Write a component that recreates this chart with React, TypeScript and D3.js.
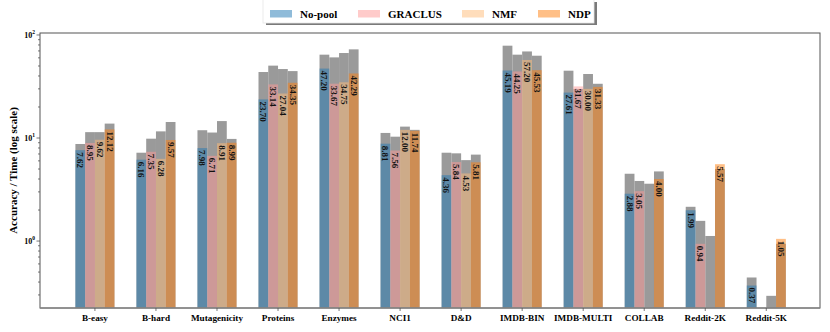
import React, { useEffect, useRef } from 'react';
import * as d3 from 'd3';

const datasets = ['B-easy', 'B-hard', 'Mutagenicity', 'Proteins', 'Enzymes', 'NCI1', 'D&D', 'IMDB-BIN', 'IMDB-MULTI', 'COLLAB', 'Reddit-2K', 'Reddit-5K'];
const methods = ['No-pool', 'GRACLUS', 'NMF', 'NDP'];

// labelled (coloured) values
const noPool = [7.62, 6.16, 7.98, 23.70, 47.20, 8.81, 4.36, 45.19, 27.61, 2.88, 1.99, 0.37];
const graclus = [8.95, 7.35, 6.71, 33.14, 33.67, 7.56, 5.84, 44.25, 31.67, 3.05, 0.94, null];
const nmf = [9.62, 6.28, 8.91, 27.04, 34.75, 12.00, 4.53, 57.20, 30.00, null, null, null];
const ndp = [12.12, 9.57, 8.99, 34.35, 42.29, 11.74, 5.81, 45.53, 31.33, 4.00, 5.57, 1.05];

// gray bars behind
const noPoolGray = [8.75, 7.2, 11.9, 43.7, 64.4, 11.2, 7.2, 78.7, 45, 4.5, 2.15, 0.443];
const graclusGray = [11.4, 9.85, 11.3, 50.4, 60.6, 10.3, 7.1, 64.4, 29.9, 3.83, 1.57, null];
const nmfGray = [11.4, 11.6, 14.6, 46.7, 66.8, 12.9, 6.1, 69.2, 41.8, 3.6, 1.12, 0.294];
const ndpGray = [13.8, 14.3, 9.8, 44.6, 72.5, 12.0, 6.9, 62.9, 33.6, 4.74, 5.0, 0.94];

const yTicks = [1, 10, 100];
const colors = ['#1f77b4', '#ff9896', '#ffbb78', '#ff7f0e'];

const App = () => {
    const ref = useRef<SVGSVGElement | null>(null);

    useEffect(() => {
        const svg = d3.select(ref.current);
        svg.selectAll('*').remove();
        const font = '"Liberation Serif", "Times New Roman", serif';

        const left = 40, right = 820, top = 33, bottom = 308;
        const x = d3.scaleLinear().domain([-0.9, 11.88]).range([left, right]);
        const y = d3.scaleLog().domain([0.224, 104.5]).range([bottom, top]);
        const bw = 0.16;

        const values = [noPool, graclus, nmf, ndp];
        const grays = [noPoolGray, graclusGray, nmfGray, ndpGray];

        // gray bars first
        grays.forEach((g, m) => {
            svg.append('g').selectAll('rect')
                .data(g.map((v, i) => ({ v, i })).filter(d => d.v != null))
                .enter().append('rect')
                .attr('x', d => x(d.i + (m - 2) * bw))
                .attr('width', x(bw) - x(0))
                .attr('y', d => y(d.v as number))
                .attr('height', d => bottom - y(d.v as number))
                .attr('fill', '#9a9a9a');
        });

        // coloured bars, half transparent
        values.forEach((vals, m) => {
            const g = svg.append('g');
            const data = vals.map((v, i) => ({ v, i })).filter(d => d.v != null);
            g.selectAll('rect')
                .data(data)
                .enter().append('rect')
                .attr('x', d => x(d.i + (m - 2) * bw))
                .attr('width', x(bw) - x(0))
                .attr('y', d => y(d.v as number))
                .attr('height', d => bottom - y(d.v as number))
                .attr('fill', colors[m])
                .attr('fill-opacity', 0.5);
            g.selectAll('text')
                .data(data)
                .enter().append('text')
                .attr('transform', d => `translate(${x(d.i + (m - 1.5) * bw)},${y(d.v as number) + 2}) rotate(90)`)
                .attr('dominant-baseline', 'central')
                .style('font-family', font)
                .style('font-weight', '700')
                .style('font-size', '9px')
                .style('fill', '#111')
                .text(d => (d.v as number).toFixed(2));
        });

        // frame
        svg.append('rect')
            .attr('x', left).attr('y', top)
            .attr('width', right - left).attr('height', bottom - top)
            .attr('fill', 'none').attr('stroke', '#555').attr('stroke-width', 1);
        svg.append('line')
            .attr('x1', left).attr('x2', right).attr('y1', bottom).attr('y2', bottom)
            .attr('stroke', '#8a8a8a').attr('stroke-width', 1.6);

        // y ticks
        const minor: number[] = [];
        [0.1, 1, 10].forEach(d => { for (let k = 2; k <= 9; k++) { const v = d * k; if (v >= 0.224 && v <= 104.5) minor.push(v); } });
        svg.append('g').selectAll('line').data(minor).enter().append('line')
            .attr('x1', left - 2).attr('x2', left).attr('y1', d => y(d)).attr('y2', d => y(d))
            .attr('stroke', '#555').attr('stroke-width', 0.8);
        svg.append('g').selectAll('line').data(yTicks).enter().append('line')
            .attr('x1', left - 3.5).attr('x2', left).attr('y1', d => y(d)).attr('y2', d => y(d))
            .attr('stroke', '#555').attr('stroke-width', 0.8);
        const yl = svg.append('g').selectAll('text').data(yTicks).enter().append('text')
            .attr('x', left - 5).attr('y', d => y(d) + 3)
            .attr('text-anchor', 'end')
            .style('font-family', font).style('font-weight', '700').style('font-size', '8px');
        yl.append('tspan').text('10');
        yl.append('tspan').attr('dy', -4).style('font-size', '5.5px').text(d => String(Math.round(Math.log10(d))));

        // x ticks
        svg.append('g').selectAll('line').data(datasets).enter().append('line')
            .attr('x1', (d, i) => x(i)).attr('x2', (d, i) => x(i))
            .attr('y1', bottom).attr('y2', bottom + 3)
            .attr('stroke', '#555').attr('stroke-width', 0.8);
        svg.append('g').selectAll('text').data(datasets).enter().append('text')
            .attr('x', (d, i) => x(i)).attr('y', 321)
            .attr('text-anchor', 'middle')
            .style('font-family', font).style('font-weight', '700').style('font-size', '9.2px')
            .text(d => d);

        svg.append('text')
            .attr('transform', `translate(17,${(top + bottom) / 2}) rotate(-90)`)
            .attr('text-anchor', 'middle')
            .style('font-family', font).style('font-weight', '700').style('font-size', '11px')
            .text('Accuracy / Time (log scale)');

        // legend with shadow
        svg.append('rect').attr('x', 266).attr('y', 2).attr('width', 331).attr('height', 23)
            .attr('fill', '#7a7a7a');
        svg.append('rect').attr('x', 263).attr('y', -1).attr('width', 331).attr('height', 24)
            .attr('fill', '#fff').attr('stroke', '#e6e6e6').attr('stroke-width', 0.8);
        const legX = [270, 358, 462, 538];
        methods.forEach((name, m) => {
            svg.append('rect').attr('x', legX[m]).attr('y', 10).attr('width', 22).attr('height', 7.5)
                .attr('fill', colors[m]).attr('fill-opacity', 0.5);
            svg.append('text').attr('x', legX[m] + 30).attr('y', 17.5)
                .style('font-family', font).style('font-weight', '700').style('font-size', '11px')
                .text(name);
        });
    }, []);

    return (
        <svg ref={ref} width={830} height={332} style={{ position: 'absolute', left: 0, top: 0, background: '#fff' }}></svg>
    );
};

export default App;
